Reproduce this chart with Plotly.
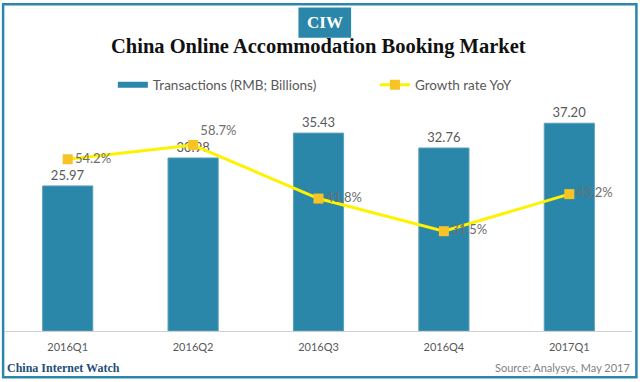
import plotly.graph_objects as go

categories = ["2016Q1", "2016Q2", "2016Q3", "2016Q4", "2017Q1"]
transactions = [25.97, 30.98, 35.43, 32.76, 37.20]
growth = [54.2, 58.7, 41.8, 31.5, 43.2]
bar_labels = ["25.97", "30.98", "35.43", "32.76", "37.20"]
growth_labels = ["54.2%", "58.7%", "41.8%", "31.5%", "43.2%"]
growth_label_pos = ["middle right", "top right", "middle right", "middle right", "middle right"]

SANS = "Lato, 'DejaVu Sans', sans-serif"
SERIF = "'Liberation Serif', 'DejaVu Serif', serif"
BLUE = "#2b87a9"

fig = go.Figure()
fig.add_trace(go.Bar(
    x=categories, y=transactions, name="Transactions (RMB; Billions)",
    marker=dict(color=BLUE, line=dict(color="#5a9fbd", width=1)),
    width=0.4, text=bar_labels, textposition="outside",
    textfont=dict(family=SANS, size=13, color="#595959"), cliponaxis=False,
    showlegend=False,
))
# legend entry for the bars (wide flat swatch as in the original)
fig.add_trace(go.Scatter(
    x=[None], y=[None], mode="lines", name="Transactions (RMB; Billions)",
    line=dict(color=BLUE, width=6), legend="legend",
))
fig.add_trace(go.Scatter(
    x=categories, y=growth, name="Growth rate YoY", yaxis="y2",
    mode="lines+markers+text",
    line=dict(color="#fff200", width=3),
    marker=dict(symbol="square", size=10, color="#f7c325"),
    text=growth_labels, textposition=growth_label_pos,
    textfont=dict(family=SANS, size=13, color="#6e6e6e"), cliponaxis=False,
    legend="legend2",
))

legend_font = dict(family=SANS, size=13.5, color="#595959")
fig.update_layout(
    width=640, height=382,
    margin=dict(l=5, r=8, t=100, b=51),
    paper_bgcolor="white", plot_bgcolor="white",
    showlegend=True,
    legend=dict(x=0.172, xanchor="left", y=1.065, yanchor="middle", font=legend_font,
                bgcolor="rgba(0,0,0,0)", itemwidth=30),
    legend2=dict(x=0.59, xanchor="left", y=1.065, yanchor="middle", font=legend_font,
                 bgcolor="rgba(0,0,0,0)", itemwidth=30),
    xaxis=dict(showgrid=False, showline=True, linecolor="#d0d0d0", linewidth=1,
               ticks="", ticklabelstandoff=6,
               tickfont=dict(family=SANS, size=11, color="#595959")),
    yaxis=dict(range=[0, 41.36], visible=False, showgrid=False),
    yaxis2=dict(range=[0, 72.9], overlaying="y", side="right", visible=False, showgrid=False),
    shapes=[
        dict(type="rect", xref="paper", yref="paper", x0=-0.003, x1=1.007, y0=-0.2, y1=1.415,
             line=dict(color=BLUE, width=2.5), fillcolor="rgba(0,0,0,0)", layer="above"),
        dict(type="rect", xref="paper", yref="paper", x0=0.468, x1=0.552, y0=1.27, y1=1.40,
             line=dict(width=0), fillcolor=BLUE, layer="above"),
    ],
    annotations=[
        dict(text="<b>CIW</b>", xref="paper", yref="paper", x=0.51, y=1.335, showarrow=False,
             font=dict(family=SERIF, size=17, color="white"), xanchor="center", yanchor="middle"),
        dict(text="<b>China Online Accommodation Booking Market</b>", xref="paper", yref="paper",
             x=0.5, y=1.23, showarrow=False, xanchor="center", yanchor="middle",
             font=dict(family=SERIF, size=20.5, color="#111111")),
        dict(text="<b>China Internet Watch</b>", xref="paper", yref="paper", x=0.0, y=-0.16,
             showarrow=False, xanchor="left", yanchor="middle",
             font=dict(family=SERIF, size=12, color="#1f4e79")),
        dict(text="Source: Analysys, May 2017", xref="paper", yref="paper", x=1.0, y=-0.16,
             showarrow=False, xanchor="right", yanchor="middle",
             font=dict(family=SANS, size=11, color="#7f7f7f")),
    ],
)

fig.write_html("out.html", config={"displayModeBar": False},
               post_script="document.body.style.margin='0';document.body.style.overflow='hidden';")
